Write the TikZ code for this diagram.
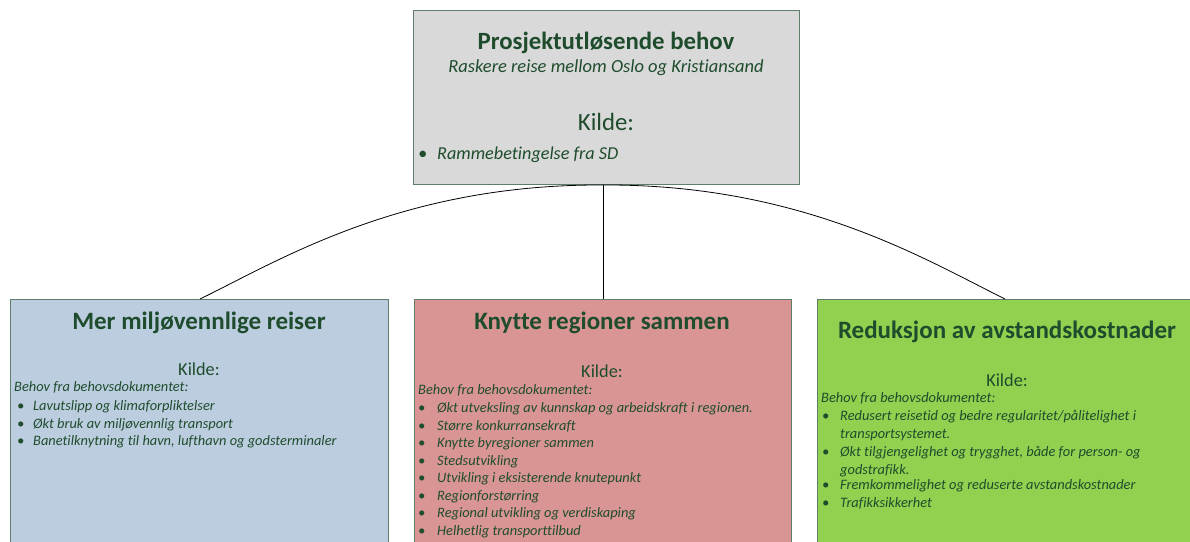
\documentclass[tikz,border=0pt]{standalone}
\usepackage{fontspec}
\setmainfont{Carlito}[Ligatures=NoCommon]
\definecolor{txtgreen}{RGB}{30,76,44}
\definecolor{boxline}{RGB}{95,125,105}
\definecolor{topfill}{RGB}{217,217,217}
\definecolor{leftfill}{RGB}{188,205,224}
\definecolor{midfill}{RGB}{217,149,148}
\definecolor{rightfill}{RGB}{146,208,80}
\newcommand{\bul}[1]{\makebox[#1][l]{•}}
\tikzset{
  box/.style={draw=boxline, line width=1pt, rectangle, anchor=north west, inner sep=0pt},
  ttl/.style={text=txtgreen, font=\fontsize{#1}{#1}\selectfont\bfseries, anchor=mid, inner sep=0pt, yshift=-5pt},
  kilde/.style={text=txtgreen, font=\fontsize{#1}{#1}\selectfont, anchor=mid, inner sep=0pt, yshift=-4pt},
  body/.style={text=txtgreen, font=\fontsize{#1}{#1}\selectfont\itshape, anchor=mid west, inner sep=0pt, yshift=-2.5pt},
  item/.style={text=txtgreen, font=\fontsize{14.4}{17.3}\selectfont\itshape, anchor=mid west, inner sep=0pt, align=left, yshift=-2.5pt},
  link/.style={draw=black, line width=0.8pt}
}
\begin{document}
\begin{tikzpicture}[x=1pt,y=-1pt]
\clip (0,0) rectangle (1190,541);
% boxes
\node[box, fill=topfill, minimum width=386pt, minimum height=174pt] (top) at (413,10) {};
\node[box, fill=leftfill, minimum width=378pt, minimum height=260pt] (left) at (10,299) {};
\node[box, fill=midfill, minimum width=377pt, minimum height=260pt] (mid) at (414,299) {};
\node[box, fill=rightfill, minimum width=390pt, minimum height=260pt] (right) at (817,299) {};
% connectors
\coordinate (hub) at (mid.north |- top.south);
\coordinate (ls) at (200,299);
\coordinate (rs) at (1005,299);
\draw[link] (hub) .. controls (402,184) and (280,260) .. (ls);
\draw[link] (hub) -- (mid.north);
\draw[link] (hub) .. controls (802,184) and (926,260) .. (rs);
% top text
\node[ttl=24.8] (t1) at (606,42) {Prosjektutløsende behov};
\node[body=18.5, anchor=mid] (t2) at (606,68) {Raskere reise mellom Oslo og Kristiansand};
\node[kilde=24.8] (t3) at (606,124) {Kilde:};
\node[body=18.2] (t4) at (418,155) {\bul{19pt}Rammebetingelse fra SD};
% left text
\node[ttl=25] (l1) at (199,322) {Mer miljøvennlige reiser};
\node[kilde=18.3] (l2) at (199,369) {Kilde:};
\node[body=14.4] (l3) at (14,387) {Behov fra behovsdokumentet:};
\node[item] (l4) at (17,406) {\bul{16pt}Lavutslipp og klimaforpliktelser};
\node[item] (l5) at (17,424) {\bul{16pt}Økt bruk av miljøvennlig transport};
\node[item] (l6) at (17,441) {\bul{16pt}Banetilknytning til havn, lufthavn og godsterminaler};
% middle text
\node[ttl=25] (m1) at (602,322) {Knytte regioner sammen};
\node[kilde=18.3] (m2) at (602,371) {Kilde:};
\node[body=14.4] (m3) at (418,390) {Behov fra behovsdokumentet:};
\node[item] (m4) at (418,408) {\bul{19pt}Økt utveksling av kunnskap og arbeidskraft i regionen.};
\node[item] (m5) at (418,426) {\bul{19pt}Større konkurransekraft};
\node[item] (m6) at (418,443) {\bul{19pt}Knytte byregioner sammen};
\node[item] (m7) at (418,461) {\bul{19pt}Stedsutvikling};
\node[item] (m8) at (418,478) {\bul{19pt}Utvikling i eksisterende knutepunkt};
\node[item] (m9) at (418,496) {\bul{19pt}Regionforstørring};
\node[item] (m10) at (418,513) {\bul{19pt}Regional utvikling og verdiskaping};
\node[item] (m11) at (418,531) {\bul{19pt}Helhetlig transporttilbud};
% right text
\node[ttl=25] (r1) at (1007,331) {Reduksjon av avstandskostnader};
\node[kilde=18.3] (r2) at (1007,380) {Kilde:};
\node[body=14.4] (r3) at (821,398) {Behov fra behovsdokumentet:};
\node[item, anchor=north west] (r4) at (822,408) {\bul{18pt}Redusert reisetid og bedre regularitet/pålitelighet i\\\hspace*{18pt}transportsystemet.};
\node[item, anchor=north west] (r5) at (822,444) {\bul{18pt}Økt tilgjengelighet og trygghet, både for person- og\\\hspace*{18pt}godstrafikk.};
\node[item] (r6) at (822,485) {\bul{18pt}Fremkommelighet og reduserte avstandskostnader};
\node[item] (r7) at (822,503) {\bul{18pt}Trafikksikkerhet};
\end{tikzpicture}
\end{document}
